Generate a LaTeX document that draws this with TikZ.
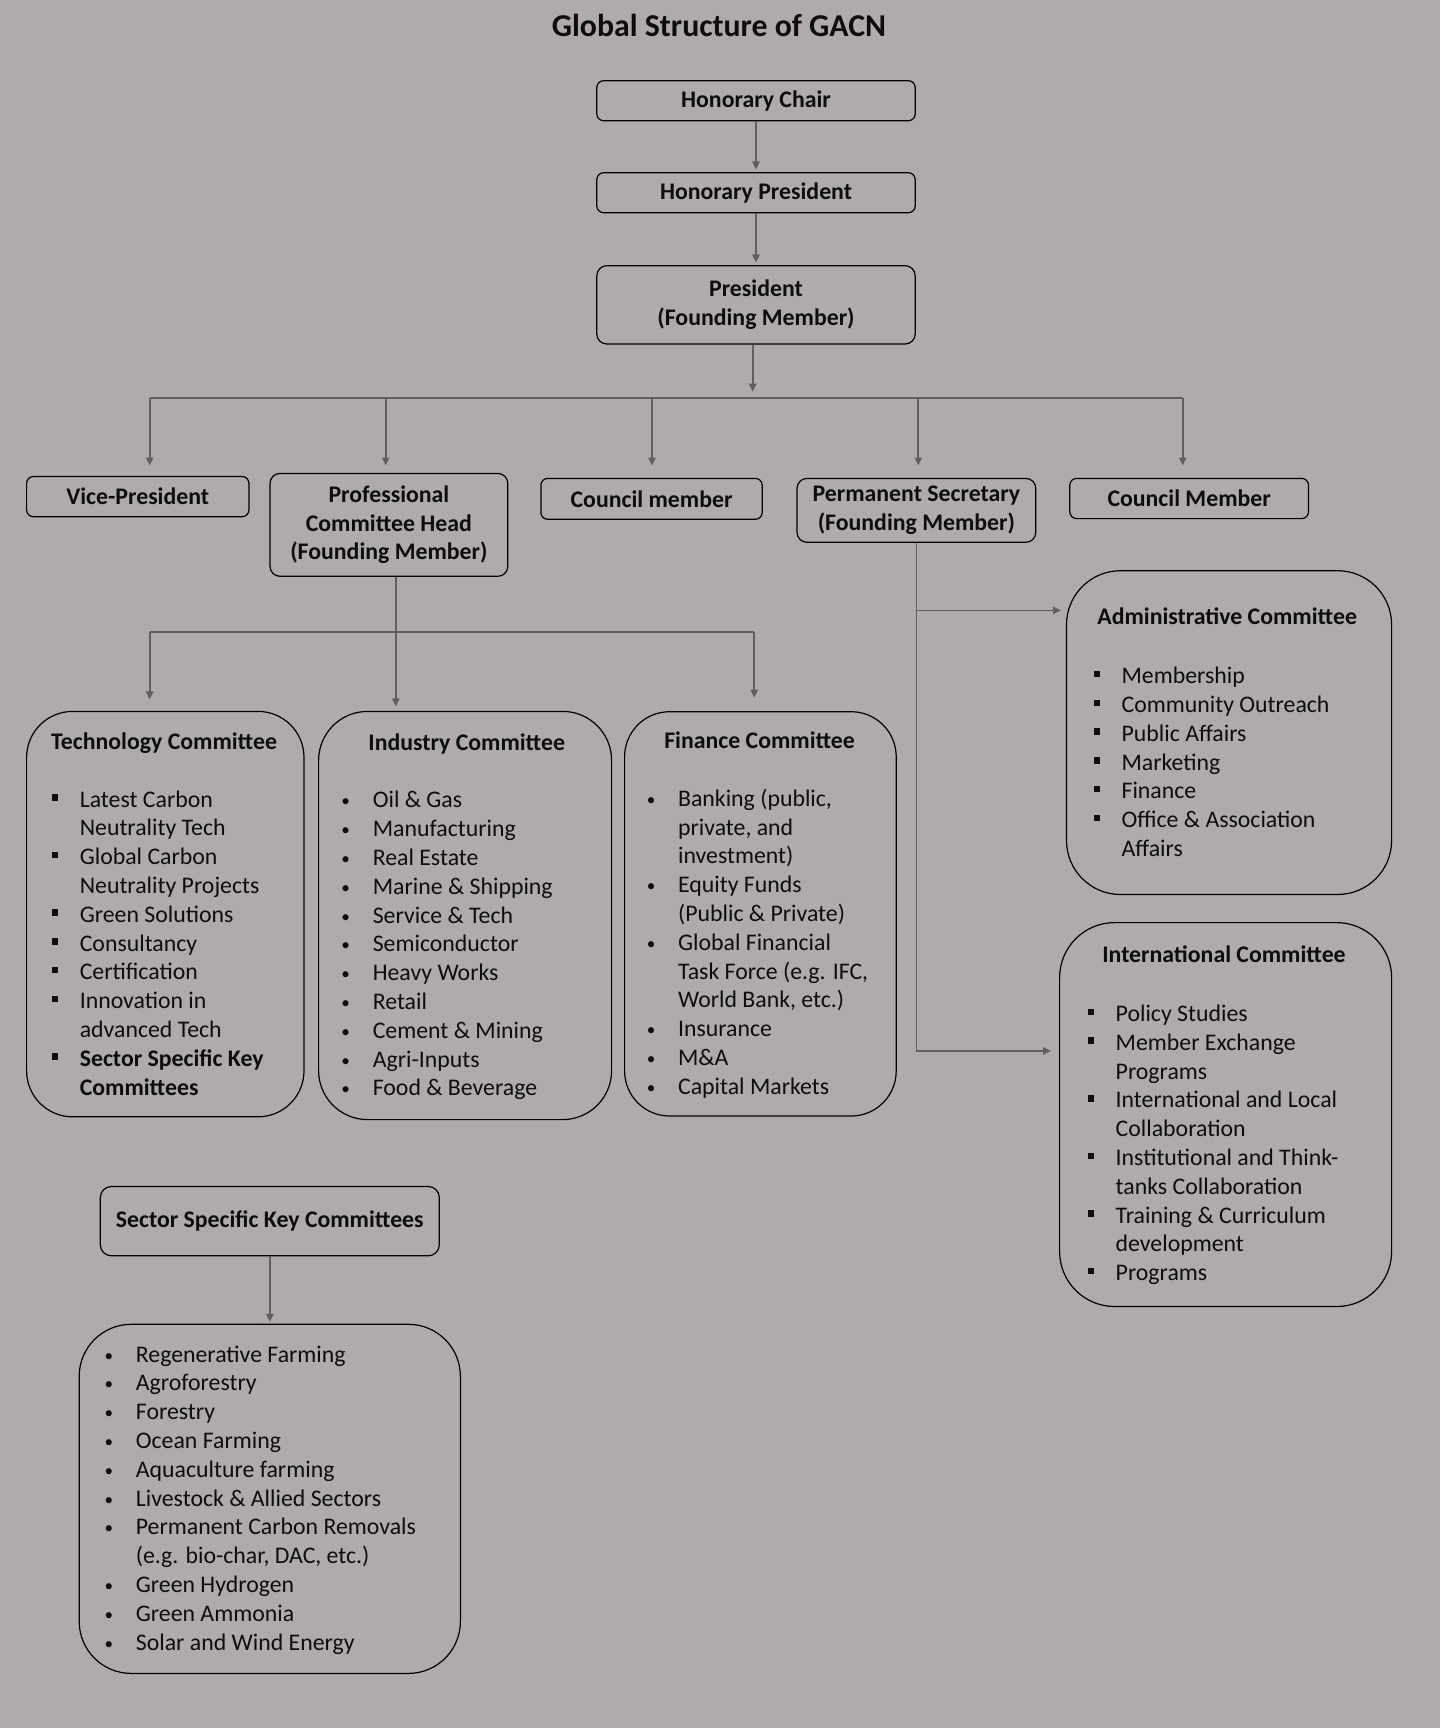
\documentclass[tikz,border=0pt]{standalone}
\usepackage{fontspec}
\usepackage{graphicx}
\setmainfont{Carlito}
\usetikzlibrary{arrows.meta}
\definecolor{bg}{HTML}{AEABAA}
\definecolor{lc}{HTML}{5F5F5F}
\definecolor{txt}{HTML}{0D0D0D}
\newcommand\sqi{\makebox[0pt][r]{\raisebox{3.2pt}{\rule{3.25pt}{3.25pt}}\hspace{10.75pt}}}
\newcommand\rdi{\makebox[0pt][r]{\raisebox{0.5pt}{\scalebox{0.72}{•}}\hspace{11.4pt}}}
\tikzset{
  sbox/.style={draw=black, line width=0.6pt, rounded corners=3.4pt, align=center,
    font=\bfseries\fontsize{11.9}{14.3}\selectfont, inner sep=0pt, text=txt},
  bigbox/.style={draw=black, line width=0.6pt, inner sep=0pt},
  conn/.style={draw=lc, line width=0.9pt, -{Triangle[length=4pt,width=3.6pt]}},
  wire/.style={draw=lc, line width=0.9pt},
  ttl/.style={font=\bfseries\fontsize{11.9}{14.4}\selectfont, anchor=base, inner sep=0pt, text=txt},
  lst/.style={font=\fontsize{11.9}{14.4}\selectfont, anchor=base west, inner sep=0pt, text=txt}
}
\begin{document}
\begin{tikzpicture}[x=0.5pt,y=-0.5pt]
\path[fill=bg] (0,0) rectangle (1440,1728);
\useasboundingbox (0,0) rectangle (1440,1728);

\node[font=\bfseries\fontsize{15.9}{19}\selectfont, anchor=base, inner sep=0pt, text=txt] (title) at (719,36.4) {Global Structure of GACN};

% top chain
\node[sbox, minimum width=159.2pt, minimum height=20pt] (hc) at (756,100.7) {Honorary Chair};
\node[sbox, minimum width=159.2pt, minimum height=20pt] (hp) at (756,192.7) {Honorary President};
\node[sbox, rounded corners=5pt, minimum width=159.2pt, minimum height=39.15pt] (pres) at (756,304.85) {President\\(Founding Member)};

% second level
\node[sbox, minimum width=111.15pt, minimum height=20.1pt] (vp) at (137.75,496.6) {Vice-President};
\node[sbox, rounded corners=5pt, minimum width=118.9pt, minimum height=51.45pt] (pch) at (388.9,524.85) {Professional\\Committee Head\\(Founding Member)};
\node[sbox, minimum width=110.65pt, minimum height=20.45pt] (cm1) at (651.55,498.85) {Council member};
\node[sbox, rounded corners=5pt, minimum width=119.4pt, minimum height=31.95pt] (ps) at (916.4,510.35) {Permanent Secretary\\(Founding Member)};
\node[sbox, minimum width=119.35pt, minimum height=20.1pt] (cm2) at (1189.15,498.5) {Council Member};

% big boxes
\node[bigbox, rounded corners=23pt, minimum width=138.7pt, minimum height=202.7pt] (tech) at (165.3,914.1) {};
\node[bigbox, rounded corners=24.5pt, minimum width=146.5pt, minimum height=204.1pt] (ind) at (465.1,915.5) {};
\node[bigbox, rounded corners=22.5pt, minimum width=135.8pt, minimum height=202.15pt] (fin) at (760.4,913.85) {};
\node[bigbox, rounded corners=27pt, minimum width=162.55pt, minimum height=161.9pt] (adm) at (1229.05,732.6) {};
\node[bigbox, rounded corners=27.5pt, minimum width=166pt, minimum height=191.95pt] (intl) at (1225.6,1114.55) {};
\node[sbox, rounded corners=5.5pt, minimum width=169.5pt, minimum height=34.65pt] (sk) at (269.8,1221.15) {Sector Specific Key Committees};
\node[bigbox, rounded corners=26pt, minimum width=190.6pt, minimum height=174.55pt] (skl) at (269.8,1498.85) {};

% titles
\node[ttl] (techT) at (164.1,749.3) {Technology Committee};
\node[ttl] (indT) at (466.7,750) {Industry Committee};
\node[ttl] (finT) at (759.6,748.1) {Finance Committee};
\node[ttl] (admT) at (1227.2,624.5) {Administrative Committee};
\node[ttl] (intlT) at (1224,962.3) {International Committee};

% lists
\node[lst] (techL) at (79.4,807) {\begin{tabular}[t]{@{}l@{}}
\sqi Latest Carbon\\ Neutrality Tech\\
\sqi Global Carbon\\ Neutrality Projects\\
\sqi Green Solutions\\
\sqi Consultancy\\
\sqi Certification\\
\sqi Innovation in\\ advanced Tech\\
\sqi\textbf{Sector Specific Key}\\ \textbf{Committees}
\end{tabular}};

\node[lst] (indL) at (372.4,807.9) {\begin{tabular}[t]{@{}l@{}}
\rdi Oil \& Gas\\
\rdi Manufacturing\\
\rdi Real Estate\\
\rdi Marine \& Shipping\\
\rdi Service \& Tech\\
\rdi Semiconductor\\
\rdi Heavy Works\\
\rdi Retail\\
\rdi Cement \& Mining\\
\rdi Agri-Inputs\\
\rdi Food \& Beverage
\end{tabular}};

\node[lst] (finL) at (677.7,806.2) {\begin{tabular}[t]{@{}l@{}}
\rdi Banking (public,\\ private, and\\ investment)\\
\rdi Equity Funds\\ (Public \& Private)\\
\rdi Global Financial\\ Task Force (e.g. IFC,\\ World Bank, etc.)\\
\rdi Insurance\\
\rdi M\&A\\
\rdi Capital Markets
\end{tabular}};

\node[lst] (admL) at (1121.2,683.6) {\begin{tabular}[t]{@{}l@{}}
\sqi Membership\\
\sqi Community Outreach\\
\sqi Public Affairs\\
\sqi Marketing\\
\sqi Finance\\
\sqi Office \& Association\\ Affairs
\end{tabular}};

\node[lst] (intlL) at (1115.3,1021.5) {\begin{tabular}[t]{@{}l@{}}
\sqi Policy Studies\\
\sqi Member Exchange\\ Programs\\
\sqi International and Local\\ Collaboration\\
\sqi Institutional and Think-\\ tanks Collaboration\\
\sqi Training \& Curriculum\\ development\\
\sqi Programs
\end{tabular}};

\node[lst] (sklL) at (135.5,1362) {\begin{tabular}[t]{@{}l@{}}
\rdi Regenerative Farming\\
\rdi Agroforestry\\
\rdi Forestry\\
\rdi Ocean Farming\\
\rdi Aquaculture farming\\
\rdi Livestock \& Allied Sectors\\
\rdi Permanent Carbon Removals\\ (e.g. bio-char, DAC, etc.)\\
\rdi Green Hydrogen\\
\rdi Green Ammonia\\
\rdi Solar and Wind Energy
\end{tabular}};

% connectors: top chain
\draw[conn, shorten >=1.3pt] (hc) -- (hp);
\draw[conn, shorten >=1.3pt] (hp) -- (pres);

% bus 1
\coordinate (busC) at (752.7,398);
\coordinate (b1) at (149.7,398);
\coordinate (b2) at (385.7,398);
\coordinate (b3) at (652,398);
\coordinate (b4) at (918.3,398);
\coordinate (b5) at (1182.7,398);
\draw[conn, shorten >=3.15pt] (pres.south -| busC) -- (busC);
\draw[wire] (b1) -- (b5);
\draw[conn, shorten >=5.2pt] (b1) -- (b1 |- vp.north);
\draw[conn, shorten >=3.65pt] (b2) -- (b2 |- pch.north);
\draw[conn, shorten >=6.15pt] (b3) -- (b3 |- cm1.north);
\draw[conn, shorten >=6.15pt] (b4) -- (b4 |- ps.north);
\draw[conn, shorten >=6.15pt] (b5) -- (b5 |- cm2.north);

% bus 2
\coordinate (q1) at (149.7,632.1);
\coordinate (q2) at (395.8,632.1);
\coordinate (q3) at (754.3,632.1);
\draw[conn, shorten >=2.2pt] (pch.south -| q2) -- (q2 |- ind.north);
\draw[wire] (q1) -- (q3);
\draw[conn, shorten >=5.7pt] (q1) -- (q1 |- tech.north);
\draw[conn, shorten >=6.75pt] (q3) -- (q3 |- fin.north);

% permanent secretary branches
\coordinate (pa) at (916.4,610.4);
\coordinate (pe) at (916.4,1051);
\draw[wire] (ps.south -| pa) -- (pe);
\draw[conn, shorten >=2.4pt] (pa) -- (adm.west |- pa);
\draw[conn, shorten >=4pt] (pe) -- (intl.west |- pe);

% sector
\draw[conn, shorten >=0.9pt] (sk) -- (skl);
\end{tikzpicture}
\end{document}
